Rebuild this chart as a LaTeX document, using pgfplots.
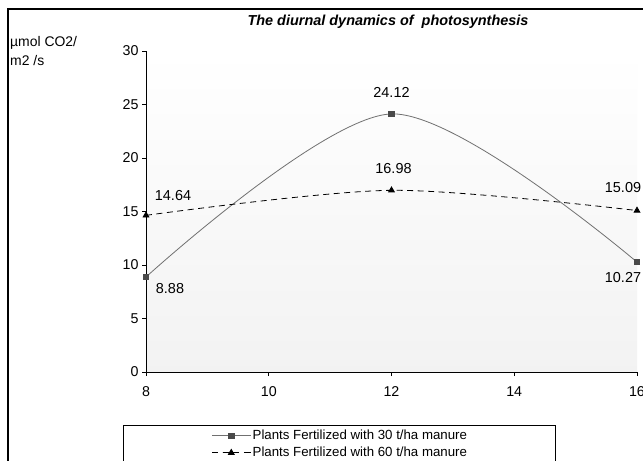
\documentclass[border=0pt]{standalone}
\usepackage{pgfplots}
\pgfplotsset{compat=1.18}
\usepackage{fontspec}
\setmainfont{Liberation Sans}
\definecolor{sergray}{HTML}{707070}
\definecolor{markgray}{HTML}{4A4A4A}
\begin{document}
\begin{tikzpicture}
\useasboundingbox (0bp,0bp) rectangle (643bp,461bp);
\clip (0bp,0bp) rectangle (643bp,461bp);
\fill[white] (0bp,0bp) rectangle (643bp,461bp);
\draw[black, line width=1.2bp] (8bp,-20bp) -- (8bp,452bp) -- (680bp,452bp);
\node[anchor=base, font=\fontsize{14.5}{16}\selectfont\bfseries\itshape] at (388bp,435bp) {The diurnal dynamics of\ \ photosynthesis};
\node[anchor=base west, inner sep=0pt, font=\fontsize{14}{16}\selectfont] at (10bp,414bp) {µmol CO2/};
\node[anchor=base west, inner sep=0pt, font=\fontsize{14}{16}\selectfont] at (10bp,395bp) {m2 /s};
\draw[black, line width=0.8bp] (123bp,-20bp) -- (123bp,36bp) -- (555bp,36bp) -- (555bp,-20bp);
\begin{axis}[
  at={(146bp,89bp)}, anchor=south west,
  scale only axis, width=491bp, height=321bp,
  xmin=8, xmax=16, ymin=0, ymax=30,
  xtick={8,10,12,14,16}, ytick={0,5,10,15,20,25,30},
  axis lines*=left,
  tick align=outside,
  major tick length=4bp,
  tick style={black, line width=0.8bp},
  axis line style={black, line width=0.8bp},
  ticklabel style={font=\fontsize{14.3}{16}\selectfont},
  xticklabel style={yshift=-7bp},
  /pgf/number format/assume math mode=true,
  axis background/.style={shade, top color=white, bottom color=black!5},
  clip=false,
  legend style={at={(0.396,-0.168)}, anchor=north, draw=none, fill=none,
    font=\fontsize{13.3}{15}\selectfont, row sep=2bp},
  legend cell align=left,
  legend image code/.code={\draw[mark repeat=2, mark phase=2] plot coordinates {(0bp,0bp) (19bp,0bp) (38bp,0bp)};},
]
\addplot[sergray, line width=0.8bp, smooth, mark=square*, mark size=2.7bp,
  mark options={solid, fill=markgray, draw=markgray}] coordinates {(8,8.88) (12,24.12) (16,10.27)};
\addlegendentry{Plants Fertilized with 30 t/ha manure}
\addplot[black, line width=0.8bp, smooth, dash pattern=on 6bp off 4.5bp, mark=triangle*, mark size=3.3bp,
  mark options={solid, fill=black}] coordinates {(8,14.64) (12,16.98) (16,15.09)};
\addlegendentry{Plants Fertilized with 60 t/ha manure}
\tikzset{lbl/.style={font=\fontsize{14.5}{16}\selectfont, inner sep=0pt}}
\node[lbl, xshift=24bp, yshift=-12bp] at (axis cs:8,8.88) {8.88};
\node[lbl, xshift=27bp, yshift=20bp] at (axis cs:8,14.64) {14.64};
\node[lbl, yshift=21bp] at (axis cs:12,24.12) {24.12};
\node[lbl, xshift=2bp, yshift=22bp] at (axis cs:12,16.98) {16.98};
\node[lbl, xshift=-14bp, yshift=23bp] at (axis cs:16,15.09) {15.09};
\node[lbl, xshift=-14bp, yshift=-15bp] at (axis cs:16,10.27) {10.27};
\end{axis}
\end{tikzpicture}
\end{document}
